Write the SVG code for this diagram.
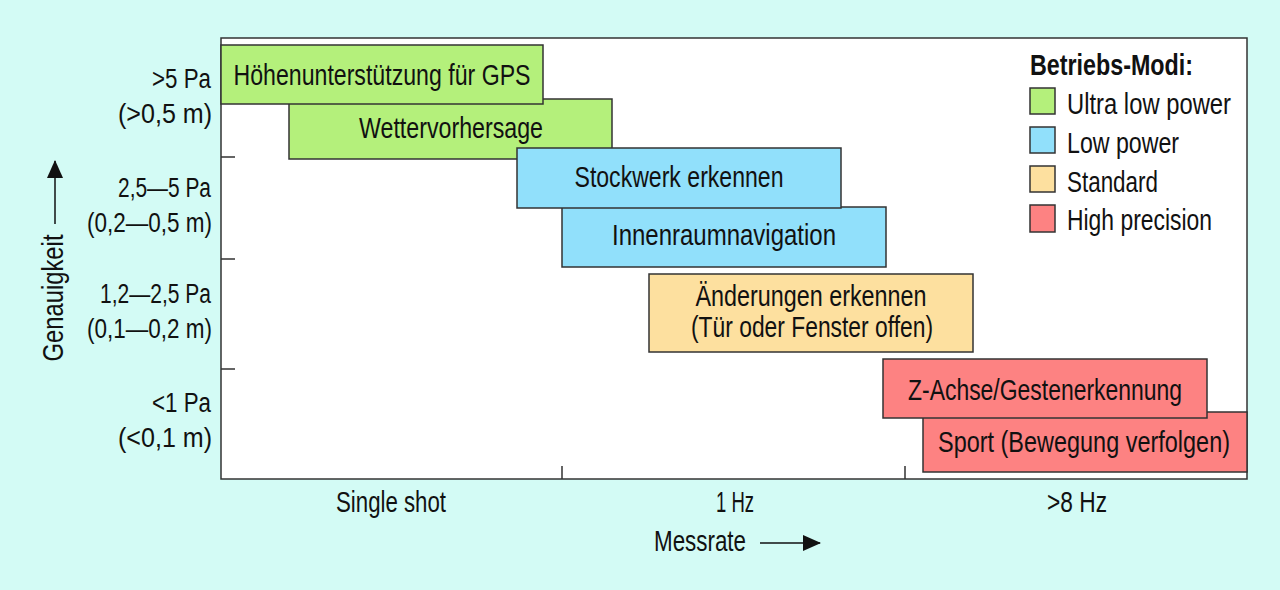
<svg xmlns="http://www.w3.org/2000/svg" width="1280" height="590" viewBox="0 0 1280 590">
<defs>
<style>
text{font-family:"Liberation Sans",Arial,sans-serif;font-size:30px;fill:#111;}
.c{text-anchor:middle;}
.r2{text-anchor:end;}
.e{text-anchor:end;font-size:27px;}
.b{font-weight:bold;}
.box{stroke:#333;stroke-width:1.5;}
.g{fill:#b4f07b;}
.bl{fill:#91e0fb;}
.o{fill:#fde09f;}
.r{fill:#fd8282;}
.ax{stroke:#333;stroke-width:1.5;fill:none;}
</style>
<marker id="ah" markerUnits="userSpaceOnUse" markerWidth="18" markerHeight="16" refX="17" refY="8" orient="auto">
<path d="M0,0 L18,8 L0,16 Z" fill="#111"/>
</marker>
</defs>
<rect x="0" y="0" width="1280" height="590" fill="#d3fbf5"/>
<g id="frame">
<rect x="221" y="38" width="1026" height="441" fill="#fff" stroke="#333" stroke-width="1.5"/>
<path class="ax" d="M221,157 H235 M221,259 H235 M221,369 H235 M562,479 V466 M905,479 V466"/>
</g>
<g id="connectors">
<line x1="55" y1="224" x2="55" y2="161" stroke="#111" stroke-width="1.5" marker-end="url(#ah)"/>
<line x1="760" y1="543" x2="820" y2="543" stroke="#111" stroke-width="1.5" marker-end="url(#ah)"/>
</g>
<g id="node-wetter">
<rect class="box g" x="289" y="99" width="323" height="60"/>
<text class="c" x="451" y="138" textLength="184" lengthAdjust="spacingAndGlyphs">Wettervorhersage</text>
</g>
<g id="node-hoehe">
<rect class="box g" x="221" y="45" width="322" height="59"/>
<text class="c" x="382" y="85" textLength="297" lengthAdjust="spacingAndGlyphs">Höhenunterstützung für GPS</text>
</g>
<g id="node-innen">
<rect class="box bl" x="562" y="207" width="324" height="60"/>
<text class="c" x="724" y="245" textLength="224" lengthAdjust="spacingAndGlyphs">Innenraumnavigation</text>
</g>
<g id="node-stock">
<rect class="box bl" x="517" y="148" width="324" height="60"/>
<text class="c" x="679" y="187" textLength="209" lengthAdjust="spacingAndGlyphs">Stockwerk erkennen</text>
</g>
<g id="node-aenderung">
<rect class="box o" x="649" y="274" width="324" height="78"/>
<text class="c" x="811" y="306" textLength="231" lengthAdjust="spacingAndGlyphs">Änderungen erkennen</text>
<text class="c" x="812" y="337" textLength="242" lengthAdjust="spacingAndGlyphs">(Tür oder Fenster offen)</text>
</g>
<g id="node-sport">
<rect class="box r" x="923" y="412" width="324" height="60"/>
<text class="r2" x="1230" y="452" textLength="292" lengthAdjust="spacingAndGlyphs">Sport (Bewegung verfolgen)</text>
</g>
<g id="node-zachse">
<rect class="box r" x="883" y="359" width="324" height="59"/>
<text class="c" x="1045" y="400" textLength="274" lengthAdjust="spacingAndGlyphs">Z-Achse/Gestenerkennung</text>
</g>
<g id="legend">
<text class="b" x="1030" y="75" textLength="163" lengthAdjust="spacingAndGlyphs">Betriebs-Modi:</text>
<rect class="box g" x="1030" y="88" width="25" height="26"/>
<text x="1067" y="114" textLength="164" lengthAdjust="spacingAndGlyphs">Ultra low power</text>
<rect class="box bl" x="1030" y="127" width="25" height="26"/>
<text x="1067" y="153" textLength="112" lengthAdjust="spacingAndGlyphs">Low power</text>
<rect class="box o" x="1030" y="166" width="25" height="26"/>
<text x="1067" y="192" textLength="91" lengthAdjust="spacingAndGlyphs">Standard</text>
<rect class="box r" x="1030" y="205" width="25" height="27"/>
<text x="1067" y="230" textLength="145" lengthAdjust="spacingAndGlyphs">High precision</text>
</g>
<g id="y-labels">
<text class="e" x="211" y="88" textLength="59" lengthAdjust="spacingAndGlyphs">&gt;5 Pa</text>
<text class="e" x="212" y="123" textLength="94" lengthAdjust="spacingAndGlyphs">(&gt;0,5 m)</text>
<text class="e" x="211" y="197" textLength="93" lengthAdjust="spacingAndGlyphs">2,5—5 Pa</text>
<text class="e" x="212" y="232" textLength="125" lengthAdjust="spacingAndGlyphs">(0,2—0,5 m)</text>
<text class="e" x="211" y="303" textLength="111" lengthAdjust="spacingAndGlyphs">1,2—2,5 Pa</text>
<text class="e" x="212" y="338" textLength="125" lengthAdjust="spacingAndGlyphs">(0,1—0,2 m)</text>
<text class="e" x="211" y="412" textLength="59" lengthAdjust="spacingAndGlyphs">&lt;1 Pa</text>
<text class="e" x="212" y="447" textLength="94" lengthAdjust="spacingAndGlyphs">(&lt;0,1 m)</text>
<text class="c" transform="translate(63,298) rotate(-90)" x="0" y="0" textLength="127" lengthAdjust="spacingAndGlyphs">Genauigkeit</text>
</g>
<g id="x-labels">
<text class="c" x="391" y="512" textLength="110" lengthAdjust="spacingAndGlyphs">Single shot</text>
<text class="c" x="735" y="512" textLength="38" lengthAdjust="spacingAndGlyphs">1 Hz</text>
<text class="c" x="1077" y="512" textLength="60" lengthAdjust="spacingAndGlyphs">&gt;8 Hz</text>
<text x="654" y="551" textLength="92" lengthAdjust="spacingAndGlyphs">Messrate</text>
</g>
</svg>
